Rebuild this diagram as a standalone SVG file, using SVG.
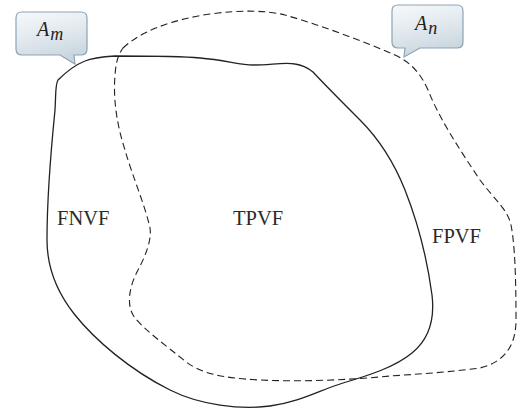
<svg xmlns="http://www.w3.org/2000/svg" width="517" height="414" viewBox="0 0 517 414">
<defs>
<linearGradient id="cg" x1="0" y1="0" x2="0.3" y2="1">
<stop offset="0" stop-color="#f6f9fb"/>
<stop offset="0.5" stop-color="#e3eaef"/>
<stop offset="1" stop-color="#c9d6df"/>
</linearGradient>
<style>
.solid{fill:none;stroke:#222;stroke-width:1.3}
.dash{fill:none;stroke:#222;stroke-width:1.1;stroke-dasharray:7 4}
.call{fill:url(#cg);stroke:#8ea3b3;stroke-width:1.2}
.lbl{font-family:"Liberation Serif",serif;font-size:20.5px;fill:#2a2a2a}
.it{font-family:"Liberation Serif",serif;font-style:italic;fill:#222}
</style>
</defs>
<g id="regions">
<path id="Am-region" class="solid" d="M58,80 C65,73 75,65 85,61 C92,58 100,57 115,56 C150,56 180,56 200,58 C225,60 240,65 253,65 C270,65 285,62 295,64 C303,65 308,68 313,72 C325,85 340,100 360,120 C380,140 395,165 405,190 C420,228 428,265 432,295 C435,320 428,340 412,353 C395,367 370,375 343,383 C320,390 300,402 270,406 C240,410 200,405 170,390 C130,370 95,340 75,315 C55,290 47,265 47,240 C47,200 52,140 55,110 C56,95 55,85 58,80 Z"/>
<path id="An-region" class="dash" d="M123,48 C140,32 170,20 210,14 C240,10 265,10 285,15 C320,25 360,40 395,55 C410,62 420,72 428,90 C440,120 460,150 480,180 C495,200 508,210 511,225 C515,245 516,280 516,320 C516,345 505,362 480,368 C450,372 420,374 390,376 C350,380 300,382 260,380 C220,378 200,373 185,361 C165,345 145,330 135,318 C125,305 130,285 138,270 C145,257 152,240 150,228 C145,205 132,175 125,150 C117,125 113,100 115,75 C116,62 118,55 123,48 Z"/>
</g>
<g id="FNVF"><text class="lbl" x="57" y="225">FNVF</text></g>
<g id="TPVF"><text class="lbl" x="233" y="225">TPVF</text></g>
<g id="FPVF"><text class="lbl" x="432" y="243">FPVF</text></g>
<g id="Am-callout">
<path class="call" d="M22,12 H81 Q87,12 87,18 V49 Q87,55 81,55 H74 L75,64 L60,55 H22 Q16,55 16,49 V18 Q16,12 22,12 Z"/>
<text class="it" x="37" y="36" font-size="20">A<tspan font-size="18" dx="1" dy="4">m</tspan></text>
</g>
<g id="An-callout">
<path class="call" d="M398,5 H457 Q463,5 463,11 V42 Q463,48 457,48 H420 L404,57 L405,48 H398 Q392,48 392,42 V11 Q392,5 398,5 Z"/>
<text class="it" x="415" y="30" font-size="20">A<tspan font-size="18" dx="1" dy="4">n</tspan></text>
</g>
</svg>
